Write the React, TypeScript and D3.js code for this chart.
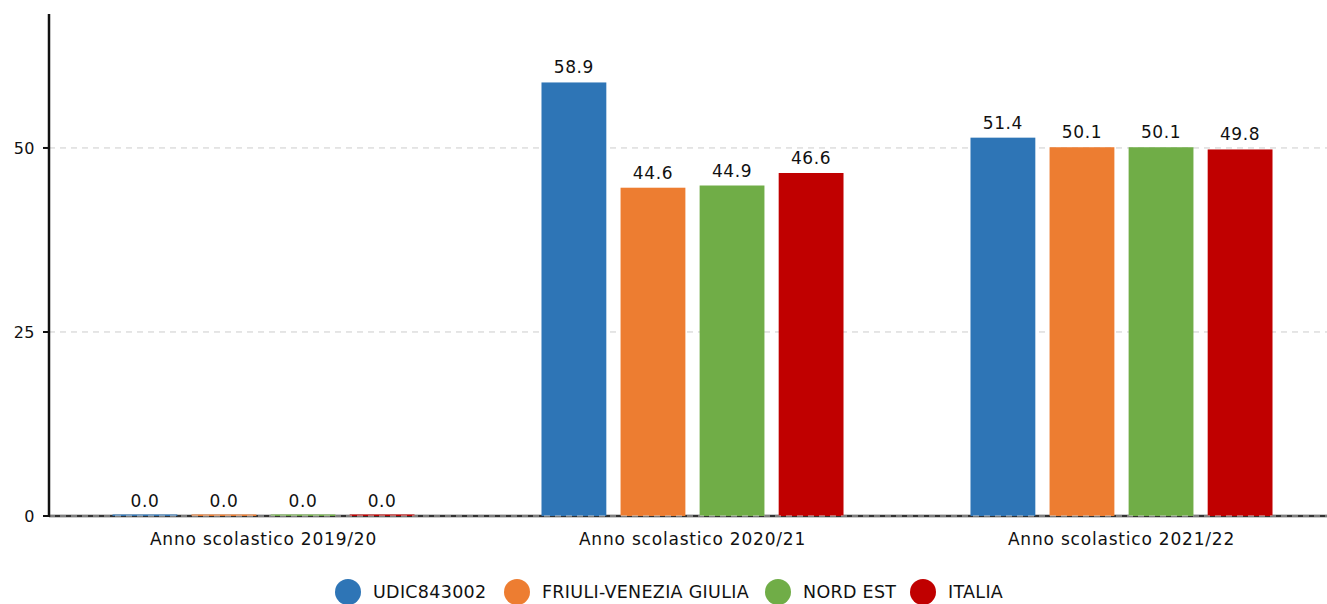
import React, { useEffect, useRef } from 'react';
import * as d3 from 'd3';

const categories = ['Anno scolastico 2019/20', 'Anno scolastico 2020/21', 'Anno scolastico 2021/22'];
const seriesNames = ['UDIC843002', 'FRIULI-VENEZIA GIULIA', 'NORD EST', 'ITALIA'];
const seriesColors = ['#2e75b6', '#ed7d31', '#70ad47', '#c00000'];
const udicValues = [0.0, 58.9, 51.4];
const fvgValues = [0.0, 44.6, 50.1];
const nordEstValues = [0.0, 44.9, 50.1];
const italiaValues = [0.0, 46.6, 49.8];
const yTicks = [0, 25, 50];

function App() {
  const ref = useRef<SVGSVGElement>(null);

  useEffect(() => {
    if (!ref.current) return;
    const svg = d3.select(ref.current);
    svg.selectAll('*').remove();

    const W = 1327;
    const H = 604;
    const margin = { top: 14, left: 49, bottom: 88 };
    const plotBottom = H - margin.bottom;
    const font = '"DejaVu Sans", Verdana, sans-serif';

    const values = [udicValues, fvgValues, nordEstValues, italiaValues];

    const x0 = d3.scaleBand<string>().domain(categories).range([margin.left, 1336]).paddingInner(0).paddingOuter(0);
    const x1 = d3.scaleBand<number>().domain(d3.range(seriesNames.length)).range([x0.bandwidth() * 0.148, x0.bandwidth() * 0.852]).paddingInner(0.18);
    const y = d3.scaleLinear().domain([0, 68.2]).range([plotBottom, margin.top]);

    // grid
    svg.append('g')
      .selectAll('line')
      .data(yTicks.filter(t => t > 0))
      .enter()
      .append('line')
      .attr('x1', margin.left)
      .attr('x2', W)
      .attr('y1', d => y(d))
      .attr('y2', d => y(d))
      .attr('stroke', '#cccccc')
      .attr('stroke-dasharray', '6,5');

    // baseline
    svg.append('line')
      .attr('x1', margin.left)
      .attr('x2', W)
      .attr('y1', y(0))
      .attr('y2', y(0))
      .attr('stroke', '#333333')
      .attr('stroke-width', 2.5);

    // bars
    const groups = svg.append('g')
      .selectAll('g')
      .data(categories)
      .enter()
      .append('g')
      .attr('transform', d => `translate(${x0(d)},0)`);

    groups.each(function (cat, ci) {
      const g = d3.select(this);
      seriesNames.forEach((_, si) => {
        const v = values[si][ci];
        const top = y(v);
        const h = Math.max(plotBottom - top, 1.5);
        g.append('rect')
          .attr('x', x1(si)!)
          .attr('y', plotBottom - h)
          .attr('width', x1.bandwidth())
          .attr('height', h)
          .attr('fill', seriesColors[si]);
        g.append('text')
          .attr('x', x1(si)! + x1.bandwidth() / 2)
          .attr('y', top - 9)
          .attr('text-anchor', 'middle')
          .style('font-family', font)
          .style('font-size', '17px')
          .style('letter-spacing', '0.6px')
          .style('fill', '#111')
          .text(v.toFixed(1));
      });
    });

    // dashed line over baseline
    svg.append('line')
      .attr('x1', margin.left)
      .attr('x2', W)
      .attr('y1', y(0))
      .attr('y2', y(0))
      .attr('stroke', '#cccccc')
      .attr('stroke-width', 1)
      .attr('stroke-dasharray', '6,5');

    // y axis
    svg.append('line')
      .attr('x1', margin.left)
      .attr('x2', margin.left)
      .attr('y1', margin.top)
      .attr('y2', plotBottom + 1)
      .attr('stroke', '#111')
      .attr('stroke-width', 2.5);

    const yt = svg.append('g').selectAll('g').data(yTicks).enter().append('g');
    yt.append('line')
      .attr('x1', margin.left - 6)
      .attr('x2', margin.left)
      .attr('y1', d => y(d))
      .attr('y2', d => y(d))
      .attr('stroke', '#111')
      .attr('stroke-width', 2);
    yt.append('text')
      .attr('x', margin.left - 14)
      .attr('y', d => y(d))
      .attr('dy', '0.36em')
      .attr('text-anchor', 'end')
      .style('font-family', font)
      .style('font-size', '16px')
      .style('letter-spacing', '0.5px')
      .style('fill', '#111')
      .text(d => String(d));

    // category labels
    svg.append('g')
      .selectAll('text')
      .data(categories)
      .enter()
      .append('text')
      .attr('x', d => x0(d)! + x0.bandwidth() / 2)
      .attr('y', plotBottom + 29)
      .attr('text-anchor', 'middle')
      .style('font-family', font)
      .style('font-size', '17px')
      .style('letter-spacing', '0.8px')
      .style('fill', '#111')
      .text(d => d);

    // legend
    const legendX = [348, 517, 778, 923];
    const legend = svg.append('g')
      .selectAll('g')
      .data(seriesNames)
      .enter()
      .append('g')
      .attr('transform', (_, i) => `translate(${legendX[i]},592)`);
    legend.append('circle')
      .attr('r', 13)
      .attr('fill', (_, i) => seriesColors[i]);
    legend.append('text')
      .attr('x', 25)
      .attr('dy', '0.36em')
      .style('font-family', font)
      .style('font-size', '17.5px')
      .style('letter-spacing', '0.3px')
      .style('fill', '#111')
      .text(d => d);
  }, []);

  return (
    <svg
      ref={ref}
      width={1327}
      height={604}
      style={{ position: 'absolute', left: 0, top: 0, background: '#fff' }}
    />
  );
}

export default App;
